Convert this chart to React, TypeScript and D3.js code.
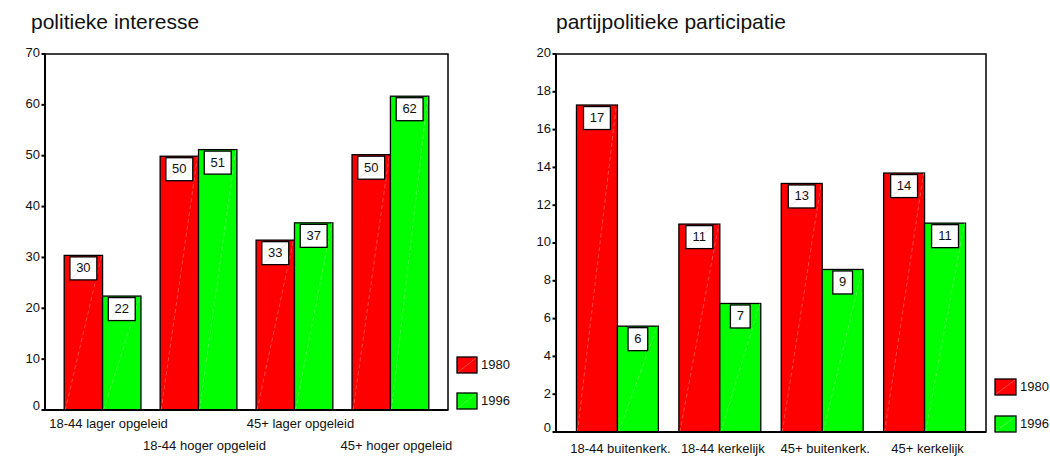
import React from "react";
import * as d3 from "d3";

const leftCategories = ["18-44 lager opgeleid", "18-44 hoger opgeleid", "45+ lager opgeleid", "45+ hoger opgeleid"];
const left1980 = [30.4, 49.9, 33.4, 50.2];
const left1996 = [22.4, 51.2, 36.8, 61.7];
const leftTicks = [0, 10, 20, 30, 40, 50, 60, 70];

const rightCategories = ["18-44 buitenkerk.", "18-44 kerkelijk", "45+ buitenkerk.", "45+ kerkelijk"];
const right1980 = [17.3, 11.0, 13.15, 13.7];
const right1996 = [5.6, 6.8, 8.6, 11.05];
const rightTicks = [0, 2, 4, 6, 8, 10, 12, 14, 16, 18, 20];

const seriesNames = ["1980", "1996"];
const seriesColors = ["#ff0000", "#00ff00"];
const diagColors = ["#ff9c9c", "#a0ffa0"];

const FONT = "'Liberation Sans', Arial, Helvetica, sans-serif";

type PanelProps = {
  title: string;
  titleX: number;
  categories: string[];
  series: number[][];
  ticks: number[];
  x0: number;
  x1: number;
  yBottom: number;
  yTop: number;
  stagger: boolean;
  labelDx: number;
  labelY: number[];
  legendX: number;
  legendY: number[];
  legendW: number;
};

function Panel(p: PanelProps) {
  const yMax = p.ticks[p.ticks.length - 1];
  const y = d3.scaleLinear().domain([0, yMax]).range([p.yBottom, p.yTop]);
  const xBand = d3.scaleBand<string>().domain(p.categories).range([p.x0, p.x1]).paddingInner(0.2).paddingOuter(0.2);
  const xSub = d3.scaleBand<string>().domain(seriesNames).range([0, xBand.bandwidth()]).padding(0);

  const bars: React.ReactNode[] = [];
  const labels: React.ReactNode[] = [];
  p.categories.forEach((c, i) => {
    seriesNames.forEach((s, si) => {
      const v = p.series[si][i];
      const bx = (xBand(c) as number) + (xSub(s) as number);
      const bw = xSub.bandwidth();
      const top = y(v);
      const bottom = y(0);
      bars.push(
        <rect key={`b-${i}-${si}`} x={bx} y={top} width={bw} height={bottom - top}
          fill={seriesColors[si]} stroke="#000" strokeWidth={1.3} />
      );
      bars.push(
        <line key={`d-${i}-${si}`} x1={bx + 1} y1={bottom} x2={bx + bw - 1} y2={top}
          stroke={diagColors[si]} strokeWidth={0.6} strokeDasharray="4,3" opacity={0.8} />
      );
      const txt = String(Math.round(v));
      const boxW = txt.length * 7.2 + 12.5;
      const boxH = 23;
      const cx = bx + bw / 2;
      const by = top + 1.5;
      labels.push(
        <g key={`l-${i}-${si}`}>
          <rect x={cx - boxW / 2} y={by} width={boxW} height={boxH} fill="#fff" stroke="#000" strokeWidth={1.3} />
          <line x1={cx - boxW / 2 + 1} y1={by + boxH - 1} x2={cx + boxW / 2 - 1} y2={by + 1}
            stroke={diagColors[si]} strokeWidth={0.5} opacity={0.7} />
          <text x={cx} y={by + boxH / 2 + 0.5} textAnchor="middle" dominantBaseline="middle"
            fontSize={13} fill="#111">{txt}</text>
        </g>
      );
    });
  });

  return (
    <g fontFamily={FONT}>
      <text x={p.titleX} y={29} fontSize={21} fill="#111">{p.title}</text>
      <rect x={p.x0} y={p.yTop} width={p.x1 - p.x0} height={p.yBottom - p.yTop} fill="#fff" stroke="#000" strokeWidth={1.5} />
      {p.ticks.map((t) => (
        <g key={`t-${t}`}>
          <line x1={p.x0 - 3.5} x2={p.x0} y1={y(t)} y2={y(t)} stroke="#000" strokeWidth={2} />
          <text x={p.x0 - 5} y={y(t) - (t === 0 ? 3 : 0)} textAnchor="end" dominantBaseline="middle" fontSize={13} fill="#111">{t}</text>
        </g>
      ))}
      {bars}
      {labels}
      <line x1={p.x0} x2={p.x0} y1={p.yTop} y2={p.yBottom} stroke="#000" strokeWidth={2} />
      <line x1={p.x0} x2={p.x1} y1={p.yBottom} y2={p.yBottom} stroke="#000" strokeWidth={2} />
      {p.categories.map((c, i) => (
        <text key={`c-${i}`} x={(xBand(c) as number) + xBand.bandwidth() / 2 + p.labelDx}
          y={p.stagger ? p.labelY[i % 2] : p.labelY[0]} textAnchor="middle" fontSize={13} fill="#111">{c}</text>
      ))}
      {seriesNames.map((s, si) => (
        <g key={`lg-${si}`}>
          <rect x={p.legendX} y={p.legendY[si]} width={p.legendW} height={16} fill={seriesColors[si]} stroke="#000" strokeWidth={1.3} />
          <line x1={p.legendX + 1} y1={p.legendY[si] + 15} x2={p.legendX + p.legendW - 1} y2={p.legendY[si] + 1}
            stroke={diagColors[si]} strokeWidth={0.6} opacity={0.8} />
          <text x={p.legendX + p.legendW + 4} y={p.legendY[si] + 8.5} dominantBaseline="middle" fontSize={13} fill="#111">{s}</text>
        </g>
      ))}
    </g>
  );
}

export default function App() {
  return (
    <svg width={1050} height={465} style={{ position: "absolute", left: 0, top: 0, background: "#fff" }}>
      <rect x={0} y={0} width={1050} height={465} fill="#fff" />
      <Panel title="politieke interesse" titleX={31} categories={leftCategories} series={[left1980, left1996]}
        ticks={leftTicks} x0={45} x1={448} yBottom={410} yTop={54} stagger={true} labelDx={6}
        labelY={[428, 450]} legendX={457} legendY={[357, 393]} legendW={20} />
      <Panel title="partijpolitieke participatie" titleX={556} categories={rightCategories} series={[right1980, right1996]}
        ticks={rightTicks} x0={556} x1={986} yBottom={432} yTop={54} stagger={false} labelDx={3}
        labelY={[453]} legendX={995} legendY={[379, 416]} legendW={21} />
    </svg>
  );
}
